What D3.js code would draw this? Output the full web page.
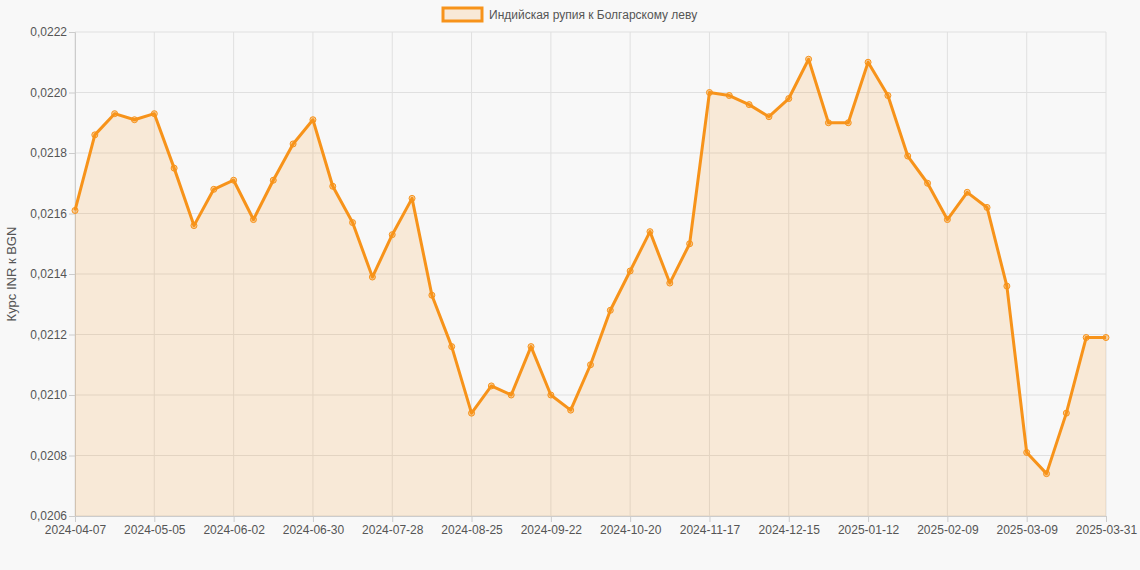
<!DOCTYPE html>
<html><head><meta charset="utf-8">
<script src="https://cdn.jsdelivr.net/npm/d3@7"></script>
<style>body{margin:0;background:#f8f8f8;font-family:"Liberation Sans",Arial,sans-serif}</style>
</head><body><svg id="c" width="1140" height="570"></svg>
<script>
const seriesName = "Индийская рупия к Болгарскому леву";
const yTicks = [0.0206,0.0208,0.0210,0.0212,0.0214,0.0216,0.0218,0.0220,0.0222];
const xTickLabels = ["2024-04-07","2024-05-05","2024-06-02","2024-06-30","2024-07-28","2024-08-25","2024-09-22","2024-10-20","2024-11-17","2024-12-15","2025-01-12","2025-02-09","2025-03-09","2025-03-31"];
const values = [0.02161,0.02186,0.02193,0.02191,0.02193,0.02175,0.02156,0.02168,0.02171,0.02158,0.02171,0.02183,0.02191,0.02169,0.02157,0.02139,0.02153,0.02165,0.02133,0.02116,0.02094,0.02103,0.02100,0.02116,0.02100,0.02095,0.02110,0.02128,0.02141,0.02154,0.02137,0.02150,0.02200,0.02199,0.02196,0.02192,0.02198,0.02211,0.02190,0.02190,0.02210,0.02199,0.02179,0.02170,0.02158,0.02167,0.02162,0.02136,0.02081,0.02074,0.02094,0.02119,0.02119];
const start = new Date(Date.UTC(2024,3,7));
const dates = values.map((v,i)=>{ if(i===values.length-1) return "2025-03-31"; const d=new Date(start.getTime()+i*7*864e5); return d.toISOString().slice(0,10);});
const svg=d3.select("#c");
const L=75,R=1106,T=32,B=516;
const x=d3.scalePoint().domain(dates).range([L,R]);
const y=d3.scaleLinear().domain([0.0206,0.0222]).range([B,T]);
const color="#f7931a";
const FF="Liberation Sans, Arial, sans-serif";
svg.append("g").selectAll("line").data(yTicks).join("line").attr("x1",L).attr("x2",R).attr("y1",d=>y(d)).attr("y2",d=>y(d)).attr("stroke","#e0e0e0");
svg.append("g").selectAll("line").data(xTickLabels).join("line").attr("x1",d=>x(d)).attr("x2",d=>x(d)).attr("y1",T).attr("y2",B).attr("stroke","#e0e0e0");
const ya=svg.append("g").attr("transform",`translate(${L},0)`).call(d3.axisLeft(y).tickValues(yTicks).tickSize(6).tickFormat(d=>d3.format(".4f")(d).replace(".",",")));
const xa=svg.append("g").attr("transform",`translate(0,${B})`).call(d3.axisBottom(x).tickValues(xTickLabels).tickSize(6));
[ya,xa].forEach(a=>{a.select(".domain").attr("stroke","#ccc");a.selectAll(".tick line").attr("stroke","#ccc");a.selectAll("text").attr("fill","#555").style("font-size","12px").style("font-family",FF);});
ya.selectAll("text").attr("x",-8);
svg.append("text").attr("transform","translate(16,274) rotate(-90)").attr("text-anchor","middle").attr("fill","#555").style("font-size","13px").style("font-family",FF).text("Курс INR к BGN");
const pts=values.map((v,i)=>[x(dates[i]),y(v)]);
svg.append("path").attr("d",d3.area().x(d=>d[0]).y0(B).y1(d=>d[1])(pts)).attr("fill","rgba(247,147,26,0.15)");
svg.append("path").attr("d",d3.line()(pts)).attr("fill","none").attr("stroke",color).attr("stroke-width",3).attr("stroke-linejoin","round");
svg.append("g").selectAll("circle").data(pts).join("circle").attr("cx",d=>d[0]).attr("cy",d=>d[1]).attr("r",3).attr("fill","rgba(247,147,26,0.4)").attr("stroke",color).attr("stroke-width",1);
svg.append("rect").attr("x",443).attr("y",8).attr("width",39).attr("height",13).attr("fill","rgba(247,147,26,0.15)").attr("stroke",color).attr("stroke-width",3);
svg.append("text").attr("x",489).attr("y",19).attr("fill","#555").style("font-size","12px").style("font-family",FF).text(seriesName);
</script></body></html>
